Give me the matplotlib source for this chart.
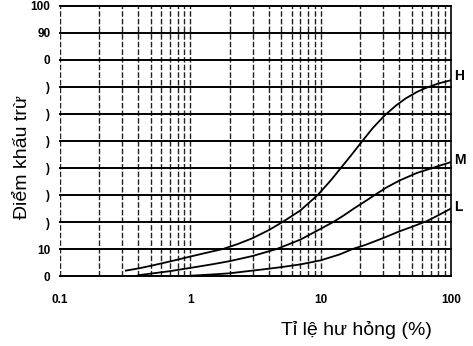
import matplotlib.pyplot as plt

plt.rcParams['font.family'] = ['Liberation Sans', 'DejaVu Sans']

# curve values
h_x = [0.32, 0.4, 0.5, 0.7, 1, 1.3, 1.78, 2.3, 3, 4, 5.1, 7, 9.5, 12, 14, 17,
       20.5, 25, 31, 38, 45, 55, 63, 80, 100]
h_y = [2, 2.8, 3.8, 5.4, 7.2, 8.5, 10, 11.8, 14, 17, 20, 24.3, 30, 35.5, 39.5,
       44.5, 49.5, 54.7, 59.5, 63.2, 65.8, 68.2, 69.5, 71.3, 72.5]
m_x = [0.4, 0.5, 0.7, 1, 1.5, 2, 3, 4.6, 6, 7, 9, 12.5, 15, 18, 22, 26, 32,
       40, 55, 72, 100]
m_y = [0.3, 0.9, 1.8, 3, 4.4, 5.5, 7.4, 10, 12.2, 13.5, 16.3, 20, 22.4, 25,
       27.7, 30, 32.8, 35.3, 38.2, 40, 42.2]
l_x = [1, 1.5, 2, 3, 4, 5, 7, 10, 14, 17.6, 22, 30, 40, 50, 65, 80, 100]
l_y = [0.1, 0.6, 1, 2, 2.7, 3.3, 4.3, 5.8, 8, 10, 11.5, 14, 16.5, 18.2, 20.3,
       22.5, 25]

y_ticks = [0, 10, 20, 30, 40, 50, 60, 70, 80, 90, 100]
y_labels = ['0', '10', ')', ')', ')', ')', ')', ')', '0', '90', '100']
x_ticks = [0.1, 1, 10, 100]
x_labels = ['0.1', '1', '10', '100']

fig = plt.figure(figsize=(4.73, 3.46), dpi=100)
ax = fig.add_axes([0.1268, 0.2023, 0.8267, 0.7804])
ax.set_xscale('log')
ax.set_xlim(0.1, 100)
ax.set_ylim(0, 100)

# vertical dashed grid
for dec in [0.1, 1, 10]:
    for k in range(1, 10):
        ax.axvline(dec * k, color='#222222', lw=1.0, dashes=(4, 1.5), zorder=1)

# horizontal solid grid
for yv in y_ticks:
    ax.axhline(yv, color='black', lw=1.4, zorder=2, clip_on=False)

for s in ['top', 'left', 'bottom']:
    ax.spines[s].set_visible(False)
ax.spines['right'].set_linewidth(1.2)

ax.plot(h_x, h_y, color='black', lw=1.3, zorder=3)
ax.plot(m_x, m_y, color='black', lw=1.3, zorder=3)
ax.plot(l_x, l_y, color='black', lw=1.3, zorder=3)

ax.text(106, 74, 'H', fontsize=10, fontweight='bold', va='center')
ax.text(106, 43, 'M', fontsize=10, fontweight='bold', va='center')
ax.text(106, 25.5, 'L', fontsize=10, fontweight='bold', va='center')

ax.set_xticks(x_ticks)
ax.set_xticklabels(x_labels, fontsize=8.5, fontweight='bold')
ax.xaxis.set_minor_locator(plt.NullLocator())
ax.set_yticks(y_ticks)
ax.set_yticklabels(y_labels, fontsize=8.5, fontweight='bold')
ax.tick_params(length=0)
ax.tick_params(axis='x', pad=13)
ax.tick_params(axis='y', pad=7)

fig.text(0.047, 0.546, 'Điểm khấu trừ', rotation=90, fontsize=14,
         ha='center', va='center')
fig.text(0.753, 0.046, 'Tỉ lệ hư hỏng (%)', fontsize=14,
         ha='center', va='center')

fig.savefig('out.png', dpi=100)
